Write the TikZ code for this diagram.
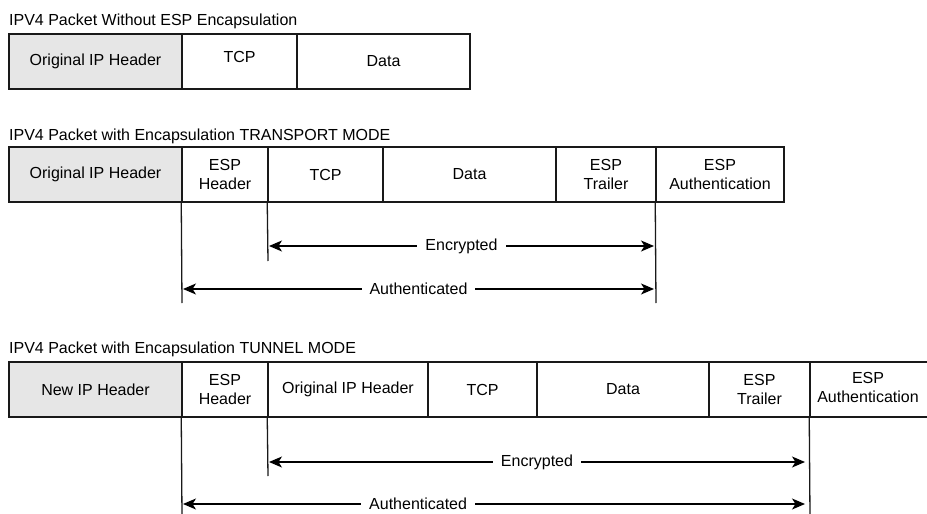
\documentclass[tikz,border=0pt]{standalone}
\usepackage{fontspec}
\setmainfont{Liberation Sans}
\usetikzlibrary{arrows.meta}
\definecolor{hdrgray}{RGB}{230,230,230}
\definecolor{linegray}{RGB}{25,25,25}
\tikzset{
  cell/.style={draw=linegray, line width=1.5pt, minimum height=55pt, inner sep=0pt, align=center,
    font=\fontsize{16}{19}\selectfont},
  hdr/.style={cell, fill=hdrgray},
  ttl/.style={anchor=base west, inner sep=0pt, font=\fontsize{16}{19}\selectfont},
  guide/.style={draw=linegray, line width=1.3pt},
  arr/.style={draw=black, line width=1.1pt, {Stealth[length=13pt,width=11pt,inset=3.5pt]}-{Stealth[length=13pt,width=11pt,inset=3.5pt]}},
  lbl/.style={fill=white, inner xsep=8pt, inner ysep=2pt, font=\fontsize{16}{19}\selectfont}
}
\begin{document}
\begin{tikzpicture}[x=1pt,y=-1pt]
\useasboundingbox (0,0) rectangle (927,514);
% ---------- Row 1 ----------
\node[ttl] (t1) at (9,25) {IPV4 Packet Without ESP Encapsulation};
\node[hdr, minimum width=173pt] (a1) at (95.5,61.5) {Original IP Header};
\node[cell, minimum width=115pt] (a2) at (239.5,61.5) {};
\node[cell, minimum width=173pt] (a3) at (383.5,61.5) {Data};
\node[font=\fontsize{16}{19}\selectfont, inner sep=0pt] (a2t) at (239.5,57) {TCP};
% ---------- Row 2 ----------
\node[ttl] (t2) at (9,140) {IPV4 Packet with Encapsulation TRANSPORT MODE};
\node[hdr, minimum width=173pt] (b1) at (95.5,174.5) {Original IP Header};
\node[cell, minimum width=86pt] (b2) at (225,174.5) {ESP\\Header};
\node[cell, minimum width=115pt] (b3) at (325.5,174.5) {TCP};
\node[cell, minimum width=173pt] (b4) at (469.5,174.5) {Data};
\node[cell, minimum width=100pt] (b5) at (606,174.5) {ESP\\Trailer};
\node[cell, minimum width=128pt] (b6) at (720,174.5) {ESP\\Authentication};
\coordinate (b2lo) at (182,303);
\coordinate (b3lo) at (268,261);
\coordinate (b6lo) at (656,303);
\draw[guide] (b2.south west) -- (b2lo);
\draw[guide] (b3.south west) -- (b3lo);
\draw[guide] (b6.south west) -- (b6lo);
\coordinate (be1) at (269,246);
\coordinate (be2) at (654,246);
\coordinate (ba1) at (183,289);
\coordinate (ba2) at (654,289);
\draw[arr] (be1) -- node[lbl, pos=0.5] (benc) {Encrypted} (be2);
\draw[arr] (ba1) -- node[lbl, pos=0.5] (baut) {Authenticated} (ba2);
% ---------- Row 3 ----------
\node[ttl] (t3) at (9,353) {IPV4 Packet with Encapsulation TUNNEL MODE};
\node[hdr, minimum width=173pt] (c1) at (95.5,389.5) {New IP Header};
\node[cell, minimum width=86pt] (c2) at (225,389.5) {ESP\\Header};
\node[cell, minimum width=160pt] (c3) at (348,389.5) {Original IP Header};
\node[cell, minimum width=109pt] (c4) at (482.5,389.5) {TCP};
\node[cell, minimum width=172pt] (c5) at (623,389.5) {Data};
\node[cell, minimum width=101pt] (c6) at (759.5,389.5) {ESP\\Trailer};
\node[cell, minimum width=120pt] (c7) at (870,389.5) {};
\node[font=\fontsize{16}{19}\selectfont, align=center, inner sep=0pt] (c7t) at (868,387.5) {ESP\\Authentication};
\coordinate (c2lo) at (182,516);
\coordinate (c3lo) at (268,476);
\coordinate (c7lo) at (810,516);
\draw[guide] (c2.south west) -- (c2lo);
\draw[guide] (c3.south west) -- (c3lo);
\draw[guide] (c7.south west) -- (c7lo);
\coordinate (ce1) at (269,462);
\coordinate (ce2) at (805,462);
\coordinate (ca1) at (183,504);
\coordinate (ca2) at (805,504);
\draw[arr] (ce1) -- node[lbl, pos=0.5] (cenc) {Encrypted} (ce2);
\draw[arr] (ca1) -- node[lbl, pos=0.378] (caut) {Authenticated} (ca2);
\end{tikzpicture}
\end{document}
